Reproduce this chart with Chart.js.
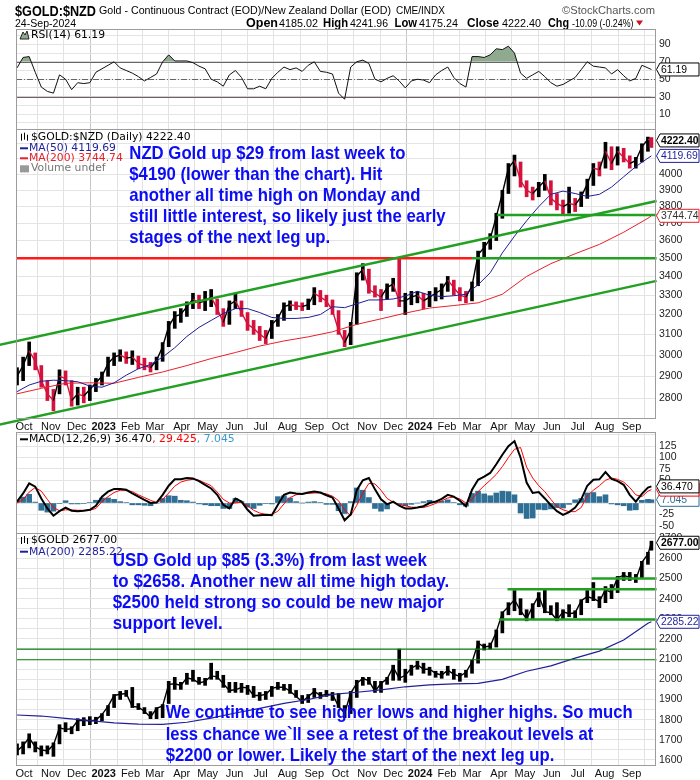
<!DOCTYPE html>
<html>
<head>
<meta charset="utf-8">
<script src="https://cdn.jsdelivr.net/npm/chart.js@4.4.1/dist/chart.umd.min.js"></script>
<style>
  body { margin: 0; background: #fff; }
  #wrap { position: relative; width: 700px; height: 780px; overflow: hidden; background: #fff; }
  canvas { position: absolute; left: 0; }
</style>
</head>
<body>
<div id="wrap">
  <canvas id="head" width="700" height="29" style="top:0"></canvas>
  <canvas id="rsi" width="700" height="100" style="top:29px"></canvas>
  <canvas id="nzd" width="700" height="303" style="top:129px"></canvas>
  <canvas id="macd" width="700" height="101" style="top:432px"></canvas>
  <canvas id="usd" width="700" height="247" style="top:533px"></canvas>
</div>
<script>
// weekly (Friday) readings from 23-Sep-2022, the last entry is the 24-Sep-2024 session
const firstFriday = '2022-09-23'
const lastSession = '2024-09-24'

const monthLabels = ['Oct', 'Nov', 'Dec', '2023', 'Feb', 'Mar', 'Apr', 'May', 'Jun', 'Jul', 'Aug', 'Sep',
  'Oct', 'Nov', 'Dec', '2024', 'Feb', 'Mar', 'Apr', 'May', 'Jun', 'Jul', 'Aug', 'Sep']

const nzdClose = [2900, 2950, 3020, 2970, 2880, 2820, 2790, 2900, 2890, 2790,
  2820, 2810, 2840, 2870, 2900, 2960, 2990, 3000, 2985, 2990,
  2960, 2950, 2940, 2975, 3040, 3140, 3190, 3200, 3240, 3280,
  3260, 3270, 3290, 3230, 3160, 3250, 3270, 3210, 3150, 3130,
  3100, 3080, 3150, 3180, 3240, 3250, 3245, 3240, 3250, 3310,
  3290, 3270, 3220, 3120, 3060, 3120, 3400, 3440, 3330, 3310,
  3290, 3340, 3360, 3270, 3270, 3290, 3300, 3270, 3290, 3310,
  3330, 3380, 3340, 3300, 3290, 3350, 3520, 3560, 3610, 3740,
  3880, 4040, 4090, 3960, 3900, 3880, 3920, 3960, 3850, 3820,
  3800, 3820, 3810, 3860, 3940, 4040, 4030, 4150, 4070, 4150,
  4110, 4070, 4090, 4180, 4230, 4222.40]
const nzdHigh = [2940, 2990, 3063, 3010, 2950, 2880, 2840, 2930, 2925, 2880,
  2850, 2850, 2860, 2890, 2920, 2990, 3010, 3025, 3015, 3020,
  2995, 2985, 2965, 2990, 3060, 3165, 3215, 3230, 3265, 3310,
  3300, 3320, 3330, 3280, 3230, 3270, 3310, 3270, 3210, 3170,
  3140, 3120, 3170, 3200, 3260, 3270, 3265, 3260, 3280, 3340,
  3325, 3300, 3275, 3220, 3120, 3160, 3420, 3470, 3440, 3350,
  3330, 3360, 3390, 3500, 3310, 3320, 3320, 3310, 3320, 3340,
  3360, 3400, 3380, 3340, 3320, 3370, 3540, 3590, 3640, 3760,
  3900, 4070, 4125, 4080, 3960, 3920, 3950, 4000, 3960, 3880,
  3840, 3920, 3850, 3890, 3970, 4070, 4080, 4210, 4180, 4180,
  4170, 4120, 4110, 4200, 4245, 4241.96]
const nzdLow = [2860, 2880, 2950, 2930, 2850, 2790, 2745, 2820, 2860, 2765,
  2770, 2780, 2790, 2830, 2860, 2900, 2950, 2970, 2960, 2955,
  2935, 2930, 2920, 2930, 2970, 3040, 3130, 3160, 3190, 3230,
  3230, 3220, 3240, 3200, 3140, 3150, 3230, 3190, 3120, 3100,
  3070, 3055, 3080, 3140, 3170, 3220, 3225, 3220, 3225, 3250,
  3265, 3240, 3200, 3100, 3040, 3050, 3150, 3380, 3310, 3290,
  3220, 3280, 3320, 3240, 3200, 3250, 3260, 3230, 3240, 3270,
  3280, 3320, 3300, 3270, 3260, 3270, 3350, 3500, 3550, 3600,
  3730, 3880, 3990, 3920, 3860, 3840, 3860, 3900, 3810, 3780,
  3750, 3760, 3770, 3800, 3850, 3930, 3990, 4040, 4030, 4060,
  4080, 4040, 4040, 4080, 4150, 4175.24]

// moving averages: MA(50) every 2 weeks, MA(200) every 4 weeks, last value on 24-Sep-2024
const nzdMa50 = [2830, 2860, 2877, 2882, 2880, 2875, 2855, 2850, 2870, 2905,
  2935, 2955, 2990, 3035, 3090, 3135, 3170, 3205, 3230, 3230,
  3210, 3185, 3180, 3180, 3185, 3200, 3240, 3235, 3255, 3275,
  3275, 3280, 3295, 3320, 3300, 3292, 3297, 3305, 3355, 3420,
  3530, 3625, 3715, 3800, 3875, 3895, 3880, 3862, 3875, 3920,
  3985, 4050, 4105, 4119.69]
const nzdMa200 = [2820, 2845, 2868, 2870, 2868, 2895, 2920, 2950, 2983, 3012,
  3043, 3068, 3088, 3113, 3150, 3178, 3207, 3233, 3246, 3260,
  3305, 3400, 3470, 3525, 3578, 3648, 3730, 3744.74]

const rsi = [63, 75, 76, 58, 41, 36, 34, 55, 50, 38,
  46, 45, 46, 58, 62, 66, 70, 63, 60, 57,
  53, 48, 52, 56, 70, 78, 71, 71, 71, 69,
  65, 62, 50, 47, 42, 55, 60, 52, 39, 39,
  42, 39, 51, 58, 64, 61, 63, 59, 66, 70,
  59, 58, 56, 34, 27, 64, 70, 72, 68, 50,
  47, 51, 54, 48, 40, 48, 50, 49, 46, 55,
  60, 64, 52, 45, 41, 76, 76, 75, 78, 85,
  84, 88, 80, 57, 51, 55, 59, 53, 46, 42,
  44, 48, 52, 61, 70, 65, 64, 63, 56, 61,
  54, 48, 51, 66, 63, 61.19]

const macdLine = [3, 21, 43, 36, 10, -12, -28, -18, -10, -17,
  -18, -17, -15, -6, 14, 25, 31, 31, 29, 21,
  14, 7, 0, 1, 18, 38, 52, 52, 55, 54,
  48, 40, 32, 18, -4, -12, 10, 3, -15, -28,
  -27, -26, -27, -4, 18, 23, 21, 20, 23, 25,
  23, 17, 12, -12, -38, -25, 28, 50, 55, 30,
  8, -3, 3, -6, -12, -12, -10, -7, 0, 3,
  9, 18, 14, 5, -7, 29, 51, 58, 66, 85,
  106, 125, 136, 100, 45, 22, 24, 10, -5, -18,
  -26, -20, -10, 8, 38, 51, 52, 68, 53, 48,
  40, 18, 3, 20, 34, 36.47]
const macdSignal = [0, 8, 24, 34, 26, 8, -10, -17, -15, -15,
  -16, -16, -16, -12, 3, 14, 23, 28, 28, 25,
  18, 12, 6, 1, 8, 22, 37, 46, 50, 52,
  50, 44, 38, 24, 8, 0, 0, 2, -6, -16,
  -22, -25, -25, -18, -2, 12, 18, 20, 21, 22,
  22, 20, 15, 5, -15, -28, -5, 22, 43, 42,
  28, 10, 2, -3, -6, -9, -10, -10, -6, -1,
  5, 11, 13, 9, 0, 8, 25, 38, 50, 63,
  80, 100, 118, 122, 79, 55, 38, 25, 8, -8,
  -15, -19, -19, -10, 16, 28, 38, 50, 55, 52,
  46, 34, 18, 14, 26, 29.425]
const macdHist = [6, 13, 19, 2, -16, -20, -18, -1, 5, -2,
  -2, -1, 1, 6, 11, 11, 8, 3, 1, -4,
  -4, -5, -6, 0, 10, 16, 15, 6, 5, 2,
  -2, -4, -6, -6, -12, -12, 10, 3, -9, -12,
  -5, -1, -2, 14, 16, 11, 3, 0, 2, 3,
  1, -3, -3, -17, -23, 3, 33, 28, 12, -12,
  -18, -13, 1, -3, -6, -3, 0, 3, 6, 4,
  4, 7, 1, -4, -7, 21, 26, 20, 16, 22,
  26, 25, 18, -22, -34, -33, -14, -15, -13, -10,
  -11, -3, 7, 10, 22, 23, 14, 18, -2, -4,
  -6, -16, -15, 6, 8, 7.045]

const usdClose = [1645, 1672, 1710, 1665, 1650, 1645, 1675, 1760, 1752, 1755,
  1795, 1797, 1793, 1798, 1825, 1866, 1920, 1926, 1930, 1865,
  1862, 1842, 1812, 1856, 1868, 1975, 1978, 1970, 2008, 2000,
  1982, 1990, 2017, 2012, 1978, 1945, 1948, 1960, 1958, 1920,
  1920, 1925, 1955, 1962, 1960, 1942, 1915, 1890, 1915, 1940,
  1920, 1925, 1925, 1866, 1832, 1932, 1980, 2005, 1993, 1940,
  1980, 2003, 2060, 2005, 2020, 2055, 2072, 2050, 2050, 2030,
  2020, 2045, 2025, 2015, 2035, 2085, 2180, 2160, 2165, 2235,
  2330, 2360, 2395, 2340, 2300, 2362, 2415, 2335, 2330, 2295,
  2335, 2325, 2330, 2390, 2410, 2400, 2385, 2445, 2430, 2505,
  2515, 2505, 2495, 2580, 2620, 2677]
const usdHigh = [1680, 1690, 1730, 1690, 1670, 1670, 1685, 1775, 1785, 1765,
  1805, 1810, 1815, 1812, 1830, 1870, 1925, 1940, 1945, 1960,
  1880, 1860, 1840, 1860, 1875, 1990, 2010, 1985, 2030, 2045,
  2010, 2005, 2080, 2040, 2020, 1985, 1985, 1980, 1970, 1965,
  1935, 1940, 1965, 1985, 1975, 1975, 1945, 1920, 1925, 1955,
  1935, 1945, 1935, 1930, 1870, 1940, 1995, 2010, 2010, 1990,
  1990, 2010, 2070, 2150, 2050, 2070, 2090, 2080, 2060, 2040,
  2040, 2065, 2050, 2030, 2045, 2095, 2190, 2175, 2180, 2245,
  2335, 2380, 2440, 2400, 2345, 2375, 2430, 2450, 2365, 2380,
  2345, 2370, 2340, 2395, 2440, 2480, 2410, 2460, 2470, 2510,
  2530, 2530, 2520, 2585, 2630, 2685]
const usdLow = [1625, 1630, 1660, 1640, 1620, 1630, 1618, 1680, 1740, 1730,
  1745, 1770, 1775, 1780, 1795, 1820, 1860, 1900, 1915, 1860,
  1850, 1830, 1805, 1805, 1810, 1880, 1950, 1950, 1975, 1990,
  1975, 1970, 2000, 2000, 1960, 1935, 1935, 1935, 1925, 1910,
  1895, 1900, 1915, 1950, 1945, 1930, 1910, 1880, 1885, 1910,
  1905, 1915, 1895, 1860, 1810, 1830, 1910, 1970, 1975, 1935,
  1935, 1975, 1995, 1995, 1985, 2020, 2050, 2030, 2020, 2010,
  2005, 2020, 2000, 1990, 2010, 2030, 2080, 2145, 2150, 2160,
  2230, 2320, 2340, 2320, 2290, 2300, 2360, 2330, 2320, 2290,
  2300, 2310, 2305, 2320, 2380, 2390, 2355, 2380, 2400, 2430,
  2490, 2490, 2480, 2500, 2570, 2640]
const usdMa200 = [1823, 1818, 1806, 1795, 1784, 1778, 1777, 1787, 1808, 1833,
  1856, 1881, 1900, 1925, 1936, 1948, 1963, 1972, 1977, 1980,
  2000, 2040, 2067, 2105, 2140, 2195, 2278, 2285.22]

// drawn trend / support lines: [start date, value, end date, value]
const nzdLines = [
  ['2022-09-03', 3049, '2024-09-30', 3834, '#22a022', 2.5],
  ['2022-09-03', 2685, '2024-09-30', 3376, '#22a022', 2.5],
  ['2022-09-22', 3500, '2024-03-01', 3500, '#ff1a1a', 2.5],
  ['2024-03-01', 3500, '2024-09-30', 3500, '#22a022', 2.5],
  ['2024-03-30', 3750, '2024-09-30', 3750, '#22a022', 2.5]
]
const usdLines = [
  ['2022-09-22', 2150, '2024-09-30', 2150, '#0b7d0b', 1.2],
  ['2022-09-22', 2097, '2024-09-30', 2097, '#0b7d0b', 1.2],
  ['2024-04-11', 2447, '2024-09-30', 2447, '#22a022', 2.5],
  ['2024-07-17', 2500, '2024-09-30', 2500, '#22a022', 2.5],
  ['2024-04-01', 2297, '2024-09-30', 2297, '#22a022', 2.5]
]

const rsiGrid = [0, 10, 20, 30, 40, 50, 60, 70, 80, 90, 100]
const rsiLabels = [10, 30, 50, 70, 90]
const nzdGrid = [2800, 2900, 3000, 3100, 3200, 3300, 3400, 3500, 3600, 3700, 3800, 3900, 4000, 4100, 4200, 4300]
const nzdLabels = [2800, 2900, 3000, 3100, 3200, 3300, 3400, 3500, 3600, 3700, 3800, 3900, 4000, 4100, 4200]
const macdGrid = [-50, -25, 0, 25, 50, 75, 100, 125, 150]
const macdLabels = [-50, -25, 0, 25, 50, 75, 100, 125]
const usdGrid = [1600, 1650, 1700, 1750, 1800, 1850, 1900, 1950, 2000, 2050, 2100, 2150,
  2200, 2250, 2300, 2350, 2400, 2450, 2500, 2550, 2600, 2650, 2700]
const usdLabels = [1600, 1700, 1800, 1900, 2000, 2100, 2200, 2300, 2400, 2500, 2600, 2700]

// ---- x positions (days since 1-Oct-2022) ----
const DAY0 = Date.UTC(2022, 9, 1)
const dayOf = s => (Date.parse(s) - DAY0) / 864e5
const lastDay = dayOf(lastSession)
const stepDays = (arr, step) => arr.map((_, i) => i < arr.length - 1 ? dayOf(firstFriday) + step * i : lastDay)
const weekDays = stepDays(nzdClose, 7)
const ma50Days = stepDays(nzdMa50, 14)
const ma200Days = stepDays(nzdMa200, 28)
const monthDays = monthLabels.map((_, i) => (Date.UTC(2022, 9 + i, 1) - DAY0) / 864e5)
const X_MIN = -9.2, X_MAX = 729.3

const pts = (xs, ys) => ys.map((y, i) => ({ x: xs[i], y }))
const RED = '#d4123c', NAVY = '#1f1f9a', MARED = '#e8202a', BLUE_TXT = '#0c0cf5'

function lineSets(lines) {
  return lines.map(l => ({
    type: 'line', data: [{ x: dayOf(l[0]), y: l[1] }, { x: dayOf(l[2]), y: l[3] }],
    borderColor: l[4], borderWidth: l[5], pointRadius: 0, clip: false, order: 0
  }))
}

function xAxis(show, h) {
  return {
    type: 'linear', min: X_MIN, max: X_MAX, offset: false,
    afterBuildTicks: s => { s.ticks = monthDays.map(v => ({ value: v })) },
    afterFit: s => { s.height = h; s.paddingLeft = 0; s.paddingRight = 0 },
    border: { display: false },
    grid: { drawTicks: false, color: c => (monthLabels[c.index] || '').length === 4 ? '#c6c6c6' : '#e2e2e2' },
    ticks: {
      display: show, autoSkip: false, maxRotation: 0, padding: 2, color: '#111',
      font: c => ({ family: 'Arial', size: 11, weight: (monthLabels[c.index] || '').length === 4 ? 'bold' : 'normal' }),
      callback: (v, i) => monthLabels[i]
    }
  }
}

function yAxis(type, min, max, grid, labels) {
  return {
    type, position: 'right', min, max,
    afterBuildTicks: s => { s.ticks = grid.map(v => ({ value: v })) },
    afterFit: s => { s.width = 44; s.paddingTop = 0; s.paddingBottom = 0 },
    border: { display: false },
    grid: { drawTicks: false, color: '#e4e4e4' },
    ticks: { autoSkip: false, padding: 3, color: '#222', font: { family: 'Arial', size: 10.5 },
      callback: v => labels.includes(v) ? String(v) : '' }
  }
}

function drawIcon(ctx, kind, color, y) {
  ctx.save()
  ctx.strokeStyle = color; ctx.fillStyle = color; ctx.lineWidth = 1
  if (kind === 'dash') {
    ctx.lineWidth = 2; ctx.beginPath(); ctx.moveTo(20, y); ctx.lineTo(28, y); ctx.stroke()
  } else if (kind === 'ohlc' || kind === 'vol') {
    const hs = kind === 'ohlc' ? [[21, 3, 4], [24, 4, 3], [27, 2, 4]] : [[21, 0, 4], [24, -2, 4], [27, -1, 4]]
    for (const [x, a, b] of hs) { ctx.beginPath(); ctx.moveTo(x + 0.5, y - a); ctx.lineTo(x + 0.5, y + b); ctx.stroke() }
    if (kind === 'vol') ctx.fillRect(20, y - 3, 9, 7)
  } else if (kind === 'mount') {
    ctx.fillStyle = '#8faa8f'
    ctx.beginPath(); ctx.moveTo(20, y + 4); ctx.lineTo(23, y - 3); ctx.lineTo(25, y); ctx.lineTo(27, y - 4); ctx.lineTo(29, y + 4); ctx.closePath()
    ctx.fill(); ctx.strokeStyle = '#222'; ctx.stroke()
  }
  ctx.restore()
}

function drawTag(ctx, x, y, t) {
  const w = 39, h = 13
  ctx.beginPath()
  ctx.moveTo(x, y); ctx.lineTo(x + 3.5, y - h / 2); ctx.lineTo(x + 3.5 + w, y - h / 2)
  ctx.lineTo(x + 3.5 + w, y + h / 2); ctx.lineTo(x + 3.5, y + h / 2); ctx.closePath()
  ctx.fillStyle = '#fff'; ctx.fill()
  ctx.strokeStyle = t.c; ctx.lineWidth = 1; ctx.stroke()
  ctx.font = (t.bold ? 'bold ' : '') + '10.4px Arial'
  ctx.fillStyle = t.tc || '#000'; ctx.textAlign = 'left'; ctx.textBaseline = 'middle'
  ctx.fillText(t.t, x + 4.5, y + 0.5)
}

const deco = {
  id: 'deco',
  beforeDatasetsDraw(chart, args, o) {
    const { ctx, chartArea: a, scales: { y } } = chart
    for (const r of o.refs || []) {
      const py = Math.round(y.getPixelForValue(r.v)) + 0.5
      ctx.save(); ctx.strokeStyle = r.color; ctx.lineWidth = 1; ctx.setLineDash(r.dash || [])
      ctx.beginPath(); ctx.moveTo(a.left, py); ctx.lineTo(a.right, py); ctx.stroke(); ctx.restore()
    }
  },
  afterDatasetsDraw(chart, args, o) {
    const { ctx, chartArea: a, scales: { y } } = chart
    ctx.save()
    ctx.textBaseline = 'middle'; ctx.textAlign = 'left'
    for (const n of o.notes || []) {
      ctx.font = 'bold 18.5px Arial'; ctx.fillStyle = BLUE_TXT
      n.lines.forEach((t, i) => {
        ctx.save(); ctx.translate(n.x, a.top + n.y + i * n.dy); ctx.scale(n.sx, 1)
        ctx.fillText(t, 0, 0); ctx.restore()
      })
    }
    for (const l of o.legend || []) {
      drawIcon(ctx, l.icon, l.color || '#000', a.top + l.y)
      ctx.font = '10.8px "DejaVu Sans"'
      let x = l.icon === 'dash' ? 29 : 31
      for (const [t, c] of l.parts) { ctx.fillStyle = c; ctx.fillText(t, x, a.top + l.y); x += ctx.measureText(t).width }
    }
    ctx.strokeStyle = '#9c9c9c'; ctx.lineWidth = 1
    ctx.strokeRect(a.left + 0.5, a.top + 0.5, a.width - 1, a.height)
    for (const t of o.tags || []) drawTag(ctx, a.right + 0.5, y.getPixelForValue(t.v), t)
    ctx.restore()
  }
}

function panel(id, datasets, x, y, decoOpts) {
  return new Chart(document.getElementById(id), {
    type: 'bar',
    data: { datasets },
    options: {
      responsive: false, animation: false, devicePixelRatio: 1, events: [],
      layout: { autoPadding: false, padding: { left: 16, right: 0, top: 0, bottom: 0 } },
      plugins: { legend: { display: false }, tooltip: { enabled: false }, deco: decoOpts },
      scales: { x, y }
    },
    plugins: [deco]
  })
}

const upColor = (c, up, down) => c.map((v, i) => i > 0 && v < c[i - 1] ? down : up)
const segColor = { borderColor: c => c.p1.parsed.y < c.p0.parsed.y ? RED : '#000' }

// ---- RSI ----
panel('rsi', [
  { type: 'line', data: pts(weekDays, rsi), borderColor: '#111', borderWidth: 1, pointRadius: 0,
    fill: { target: { value: 70 }, above: '#8faa8f', below: 'rgba(0,0,0,0)' } },
  { type: 'line', data: pts(weekDays, rsi), borderColor: 'rgba(0,0,0,0)', borderWidth: 0, pointRadius: 0,
    fill: { target: { value: 30 }, above: 'rgba(0,0,0,0)', below: '#b47a7a' } }
], xAxis(false, 0), yAxis('linear', -7.2, 107.7, rsiGrid, rsiLabels), {
  refs: [{ v: 70, color: '#666' }, { v: 30, color: '#666' }, { v: 50, color: '#666', dash: [6, 2, 1, 2] }],
  legend: [{ y: 6, icon: 'mount', parts: [['RSI(14) 61.19', '#000']] }],
  tags: [{ v: 61.19, t: '61.19', c: '#000' }]
})

// ---- NZD gold ----
panel('nzd', [
  ...lineSets(nzdLines),
  { type: 'line', data: pts(ma50Days, nzdMa50), borderColor: NAVY, borderWidth: 1, pointRadius: 0, order: 1 },
  { type: 'line', data: pts(ma200Days, nzdMa200), borderColor: MARED, borderWidth: 1, pointRadius: 0, order: 1 },
  { type: 'line', data: pts(weekDays, nzdClose), borderColor: '#000', borderWidth: 1.4, pointRadius: 0, segment: segColor, order: 2 },
  { type: 'bar', data: nzdClose.map((c, i) => ({ x: weekDays[i], y: [nzdLow[i], nzdHigh[i]] })),
    backgroundColor: upColor(nzdClose, '#000', RED), barThickness: 3, grouped: false, order: 3 }
], xAxis(true, 14), yAxis('logarithmic', 2713.6, 4300, nzdGrid, nzdLabels), {
  notes: [{ x: 129.3, y: 25, dy: 21.1, sx: 0.905, lines: [
    'NZD Gold up $29 from last week to',
    '$4190 (lower than the chart). Hit',
    'another all time high on Monday and',
    'still little interest, so likely just the early',
    'stages of the next leg up.'] }],
  legend: [
    { y: 7.7, icon: 'ohlc', parts: [['$GOLD:$NZD (Daily) 4222.40', '#000']] },
    { y: 19.3, icon: 'dash', color: NAVY, parts: [['MA(50) 4119.69', NAVY]] },
    { y: 29.3, icon: 'dash', color: MARED, parts: [['MA(200) 3744.74', MARED]] },
    { y: 39.3, icon: 'vol', color: '#999', parts: [['Volume undef', '#777']] }
  ],
  tags: [
    { v: 3744.74, t: '3744.74', c: MARED, tc: '#333' },
    { v: 4119.69, t: '4119.69', c: NAVY, tc: NAVY },
    { v: 4222.40, t: '4222.40', c: '#000', bold: true }
  ]
})

// ---- MACD ----
panel('macd', [
  { type: 'line', data: pts(weekDays, macdLine), borderColor: '#000', borderWidth: 2, pointRadius: 0, order: 0 },
  { type: 'line', data: pts(weekDays, macdSignal), borderColor: '#ff0000', borderWidth: 1, pointRadius: 0, order: 1 },
  { type: 'bar', data: pts(weekDays, macdHist), backgroundColor: '#2f6f96', barThickness: 5, grouped: false, order: 2 }
], xAxis(false, 0), yAxis('linear', -65.9, 156, macdGrid, macdLabels), {
  legend: [{ y: 7.3, icon: 'dash', color: '#000', parts: [['MACD(12,26,9) 36.470', '#000'], [', 29.425', '#f00'], [', 7.045', '#3a9ad0']] }],
  tags: [
    { v: 7.045, t: '7.045', c: '#2f6f96', tc: '#2f6f96' },
    { v: 29.425, t: '29.425', c: '#f00', tc: '#f00' },
    { v: 36.47, t: '36.470', c: '#000' }
  ]
})

// ---- USD gold ----
panel('usd', [
  ...lineSets(usdLines),
  { type: 'line', data: pts(ma200Days, usdMa200), borderColor: NAVY, borderWidth: 1.2, pointRadius: 0, order: 1 },
  { type: 'line', data: pts(weekDays, usdClose), borderColor: '#000', borderWidth: 1.4, pointRadius: 0, order: 2 },
  { type: 'bar', data: usdClose.map((c, i) => ({ x: weekDays[i], y: [usdLow[i], usdHigh[i]] })),
    backgroundColor: '#000', barThickness: 3, grouped: false, order: 3 }
], xAxis(true, 15), yAxis('linear', 1575.2, 2725.4, usdGrid, usdLabels), {
  notes: [
    { x: 112.7, y: 28, dy: 21.1, sx: 0.915, lines: [
      'USD Gold up $85 (3.3%) from last week',
      'to $2658. Another new all time high today.',
      '$2500 held strong so could be new major',
      'support level.'] },
    { x: 165.7, y: 180.3, dy: 21.3, sx: 0.9, lines: [
      'We continue to see higher lows and higher highs. So much',
      'less chance we`ll see a retest of the breakout levels at',
      '$2200 or lower. Likely the start of the next leg up.'] }
  ],
  legend: [
    { y: 7, icon: 'ohlc', parts: [['$GOLD 2677.00', '#000']] },
    { y: 18.7, icon: 'dash', color: NAVY, parts: [['MA(200) 2285.22', NAVY]] }
  ],
  tags: [
    { v: 2285.22, t: '2285.22', c: NAVY, tc: NAVY },
    { v: 2677, t: '2677.00', c: '#000', bold: true }
  ]
})

// ---- header ----
const hc = document.getElementById('head').getContext('2d')
function put(text, x, y, font, color, w) {
  hc.font = font; hc.fillStyle = color; hc.textBaseline = 'alphabetic'
  const m = hc.measureText(text).width
  hc.save(); hc.translate(x, y); hc.scale(w / m, 1); hc.fillText(text, 0, 0); hc.restore()
}
const B = 'bold 12px Arial', N = '11.5px Arial'
put('$GOLD:$NZD', 15, 15.5, 'bold 15px Arial', '#000', 81)
put('Gold - Continuous Contract (EOD)/New Zealand Dollar (EOD)', 99, 14, N, '#000', 292)
put('CME/INDX', 396, 14, '10px Arial', '#000', 49)
put('\u00a9StockCharts.com', 562, 14, N, '#555', 93)
put('24-Sep-2024', 15, 26.5, N, '#000', 61)
put('Open', 246, 26.5, B, '#000', 32)
put('4185.02', 279, 26.5, N, '#000', 39)
put('High', 323, 26.5, B, '#000', 25)
put('4241.96', 350, 26.5, N, '#000', 38)
put('Low', 394.6, 26.5, B, '#000', 22.5)
put('4175.24', 419, 26.5, N, '#000', 39)
put('Close', 467, 26.5, B, '#000', 32)
put('4222.40', 502, 26.5, N, '#000', 39)
put('Chg', 548, 26.5, B, '#000', 21)
put('-10.09 (-0.24%)', 572, 26.5, N, '#000', 61.5)
hc.fillStyle = '#d01020'
hc.beginPath(); hc.moveTo(636, 20.5); hc.lineTo(643, 20.5); hc.lineTo(639.5, 25.5); hc.closePath(); hc.fill()
</script>
</body>
</html>
